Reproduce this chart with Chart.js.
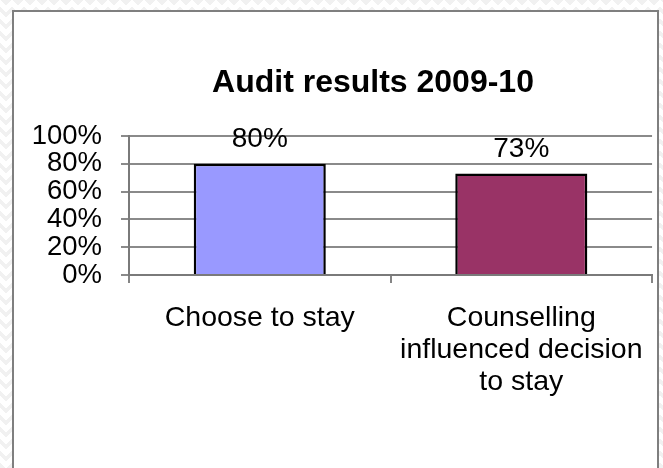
<!DOCTYPE html>
<html>
<head>
<meta charset="utf-8">
<script src="https://cdn.jsdelivr.net/npm/chart.js@4/dist/chart.umd.min.js"></script>
<style>
  html, body { margin: 0; padding: 0; }
  body {
    width: 663px; height: 468px; overflow: hidden; position: relative;
    background:
      linear-gradient(135deg, #f1f1f1 25%, transparent 25%) -6px 0,
      linear-gradient(225deg, #f1f1f1 25%, transparent 25%) -6px 0,
      linear-gradient(315deg, #f1f1f1 25%, transparent 25%),
      linear-gradient(45deg, #f1f1f1 25%, transparent 25%);
    background-size: 12px 12px;
    background-color: #ffffff;
  }
  #frame {
    position: absolute; left: 12px; top: 10px; width: 643px; height: 470px;
    background: #ffffff;
    border-left: 2px solid #7f7f7f;
    border-top: 2px solid #7f7f7f;
    border-right: 2px solid #7f7f7f;
  }
  #wrap { position: absolute; left: 0; top: 0; width: 663px; height: 468px; }
</style>
</head>
<body>
<div id="frame"></div>
<div id="wrap"><canvas id="chart" width="663" height="468"></canvas></div>
<script>
// Audit results, share of clients (percent)
const categories = ['Choose to stay', ['Counselling', 'influenced decision', 'to stay']];
const auditValues = [80, 73];
const barColors = ['#9999ff', '#993366'];
const yTickValues = [0, 20, 40, 60, 80, 100];

const FONT = '"Liberation Sans", Arial, sans-serif';

// Writes each bar's value above it
const valueLabels = {
  id: 'valueLabels',
  afterDatasetsDraw(chart) {
    const ctx = chart.ctx;
    const meta = chart.getDatasetMeta(0);
    ctx.save();
    ctx.font = '28px ' + FONT;
    ctx.fillStyle = '#000000';
    ctx.textAlign = 'center';
    ctx.textBaseline = 'alphabetic';
    meta.data.forEach((bar, i) => {
      ctx.fillText(auditValues[i] + '%', bar.x, bar.y - 17);
    });
    ctx.restore();
  }
};

// Centres the title over the span from the frame's left third to the right edge
const titleSpan = {
  id: 'titleSpan',
  afterLayout(chart) {
    if (chart.titleBlock) {
      chart.titleBlock.left = 83;
      chart.titleBlock.right = 663;
      chart.titleBlock.width = 580;
    }
  }
};

new Chart(document.getElementById('chart'), {
  type: 'bar',
  data: {
    labels: categories,
    datasets: [{
      data: auditValues,
      backgroundColor: barColors,
      borderColor: '#000000',
      borderWidth: 2.5,
      categoryPercentage: 1,
      barPercentage: 0.505
    }]
  },
  options: {
    responsive: false,
    animation: false,
    events: [],
    layout: { padding: { left: 0, right: 6, top: 0, bottom: 0 } },
    plugins: {
      legend: { display: false },
      tooltip: { enabled: false },
      title: {
        display: true,
        text: 'Audit results 2009-10',
        color: '#000000',
        font: { family: FONT, size: 32, weight: 'bold', lineHeight: 1.2 },
        padding: { top: 64, bottom: 33.6 }
      }
    },
    scales: {
      x: {
        offset: true,
        afterFit(scale) { scale.height = 193; },
        grid: {
          display: true,
          offset: true,
          drawOnChartArea: false,
          drawTicks: true,
          tickLength: 8,
          color: '#858585',
          lineWidth: 2
        },
        border: { display: true, color: '#7a7a7a', width: 2 },
        ticks: {
          color: '#000000',
          padding: 19,
          maxRotation: 0,
          autoSkip: false,
          font: { family: FONT, size: 28.5, lineHeight: 1.123 }
        }
      },
      y: {
        min: 0,
        max: 100,
        afterFit(scale) { scale.width = 129; },
        afterBuildTicks(scale) { scale.ticks = yTickValues.map(v => ({ value: v })); },
        grid: {
          color: '#8a8a8a',
          lineWidth: 2,
          drawTicks: true,
          tickLength: 8
        },
        border: { display: true, color: '#7a7a7a', width: 2 },
        ticks: {
          color: '#000000',
          padding: 19,
          autoSkip: false,
          font: { family: FONT, size: 27.5 },
          callback: v => v + '%'
        }
      }
    }
  },
  plugins: [valueLabels, titleSpan]
});
</script>
</body>
</html>
